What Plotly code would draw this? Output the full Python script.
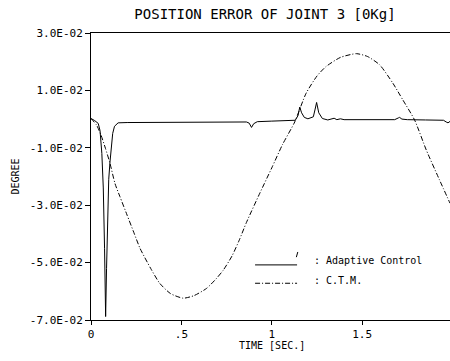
import plotly.graph_objects as go

# Adaptive control (solid)
t_adaptive = [0, 0.02, 0.04, 0.05, 0.06, 0.068, 0.075, 0.081, 0.086, 0.092, 0.098, 0.105,
              0.112, 0.12, 0.13, 0.15, 0.2, 0.3, 0.4, 0.5, 0.6, 0.7, 0.8, 0.86, 0.875, 0.888,
              0.9, 0.92, 1.0, 1.1, 1.13, 1.145, 1.155, 1.165, 1.18, 1.2, 1.23, 1.24, 1.248,
              1.26, 1.28, 1.31, 1.33, 1.345, 1.36, 1.38, 1.4, 1.5, 1.6, 1.68, 1.7, 1.707,
              1.72, 1.75, 1.85, 1.95, 1.965, 1.975, 1.986]
e_adaptive = [0.0002, -0.0005, -0.0015, -0.004, -0.012, -0.024, -0.045, -0.0688, -0.052,
              -0.034, -0.021, -0.015, -0.0095, -0.005, -0.0025, -0.0013, -0.0012, -0.0012,
              -0.0011, -0.0011, -0.0010, -0.0010, -0.0010, -0.0010, -0.0014, -0.0029,
              -0.0016, -0.0009, -0.0007, -0.0006, -0.0004, 0.0012, 0.0042, 0.0022, 0.0006,
              0.0001, 0.0008, 0.0035, 0.0058, 0.0022, 0.0002, -0.0003, 0.0001, 0.0003,
              -0.0002, 0.0001, -0.0002, -0.0002, -0.0002, -0.0002, 0.0004, 0.0006, 0.0000,
              -0.0002, -0.0003, -0.0004, -0.0010, -0.0013, -0.0008]

# C.T.M. (dash-dot)
t_ctm = [0, 0.03, 0.055, 0.08, 0.105, 0.133, 0.16, 0.2, 0.24, 0.271, 0.33, 0.38, 0.44,
         0.51, 0.57, 0.639, 0.69, 0.731, 0.78, 0.82, 0.86, 0.934, 1.0, 1.06, 1.127, 1.19,
         1.25, 1.30, 1.38, 1.468, 1.53, 1.597, 1.67, 1.725, 1.79, 1.855, 1.928, 1.986]
e_ctm = [0.0002, -0.002, -0.0055, -0.0102, -0.0154, -0.0225, -0.027, -0.0335, -0.040,
         -0.045, -0.052, -0.0572, -0.0608, -0.0624, -0.0615, -0.059, -0.0558, -0.0527,
         -0.0477, -0.0422, -0.0360, -0.0258, -0.0170, -0.0088, -0.001, 0.009, 0.015,
         0.0183, 0.0215, 0.0228, 0.0218, 0.0189, 0.0125, 0.0067, -0.0003, -0.0108,
         -0.0212, -0.0293]

y_tickvals = [0.03, 0.01, -0.01, -0.03, -0.05, -0.07]
y_ticktext = ["3.0E-02", "1.0E-02", "-1.0E-02", "-3.0E-02", "-5.0E-02", "-7.0E-02"]
x_tickvals = [0, 0.5, 1, 1.5]
x_ticktext = ["0", ".5", "1", "1.5"]

FONT = "DejaVu Sans Mono"

fig = go.Figure()
fig.add_trace(go.Scatter(x=t_adaptive, y=e_adaptive, mode="lines",
                         line=dict(color="black", width=1), showlegend=False))
fig.add_trace(go.Scatter(x=t_ctm, y=e_ctm, mode="lines",
                         line=dict(color="black", width=1, dash="5px,2px,1px,2px",
                                   shape="spline", smoothing=0.6), showlegend=False))

fig.update_layout(
    width=450, height=361,
    margin=dict(l=91, r=0, t=33, b=41),
    paper_bgcolor="white", plot_bgcolor="white",
    font=dict(family=FONT, color="black", size=11),
    title=dict(text="POSITION ERROR OF JOINT 3 [0Kg]", x=265/450, xanchor="center",
               xref="container", y=1-14/361, yref="container", yanchor="middle",
               font=dict(family=FONT, size=14, color="black")),
    xaxis=dict(range=[0, 1.986], tickvals=x_tickvals, ticktext=x_ticktext,
               showgrid=False, zeroline=False, showline=True, linecolor="black",
               linewidth=1, mirror=True, ticks="outside", ticklen=4, tickcolor="black",
               tickfont=dict(family=FONT, size=11)),
    yaxis=dict(range=[-0.07, 0.03], tickvals=y_tickvals, ticktext=y_ticktext,
               showgrid=False, zeroline=False, showline=True, linecolor="black",
               linewidth=1, ticks="outside", ticklen=5, tickcolor="black",
               tickfont=dict(family=FONT, size=11)),
    shapes=[
        dict(type="line", xref="paper", yref="paper", x0=0.457, x1=0.574, y0=0.192, y1=0.192,
             line=dict(color="black", width=1)),
        dict(type="line", xref="paper", yref="paper", x0=0.572, x1=0.576, y0=0.219, y1=0.237,
             line=dict(color="black", width=1)),
        dict(type="line", xref="paper", yref="paper", x0=0.457, x1=0.574, y0=0.128, y1=0.128,
             line=dict(color="black", width=1, dash="5px,2px,1px,2px")),
    ],
    annotations=[
        dict(text=": Adaptive Control", xref="paper", yref="paper", x=0.616, y=0.209,
             xanchor="left", yanchor="middle", showarrow=False,
             font=dict(family=FONT, size=10)),
        dict(text=": C.T.M.", xref="paper", yref="paper", x=0.616, y=0.139,
             xanchor="left", yanchor="middle", showarrow=False,
             font=dict(family=FONT, size=10)),
        dict(text="DEGREE", xref="paper", yref="paper", x=(15-91)/359, y=0.5,
             xanchor="center", yanchor="middle", textangle=-90, showarrow=False,
             font=dict(family=FONT, size=10)),
        dict(text="TIME [SEC.]", xref="paper", yref="paper", x=(272-91)/359, y=(320-345)/287,
             xanchor="center", yanchor="middle", showarrow=False,
             font=dict(family=FONT, size=10)),
    ],
)

fig.write_html("out.html", config={"displayModeBar": False},
               post_script="document.body.style.margin='0';document.body.style.overflow='hidden';")
